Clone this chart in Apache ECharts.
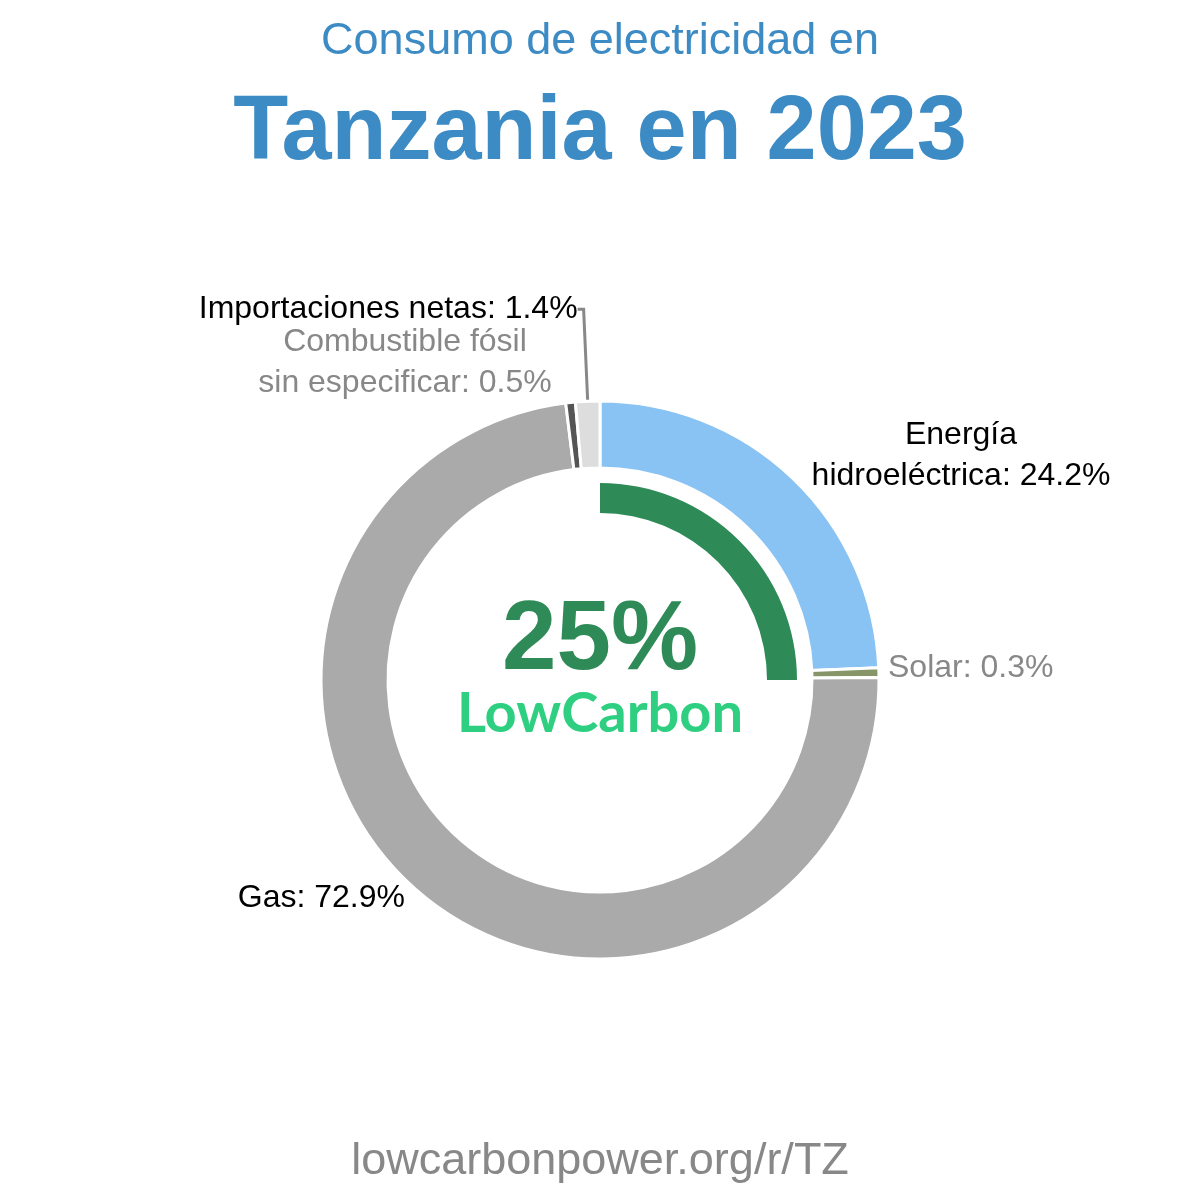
<!DOCTYPE html>
<html>
<head>
<meta charset="utf-8">
<style>
  html, body { margin: 0; padding: 0; background: #fff; }
  #chart { width: 1200px; height: 1200px; }
</style>
<script src="https://cdn.jsdelivr.net/npm/echarts@6/dist/echarts.min.js"></script>
</head>
<body>
<div id="chart"></div>
<script>
// datos
const categories = ['Energía\nhidroeléctrica', 'Solar', 'Gas', 'Combustible fósil\nsin especificar', 'Importaciones netas']
const shares = [24.2, 0.3, 72.9, 0.5, 1.4]
const lowCarbonShare = [25, 75]
const sliceColors = ['#89c3f3', '#869669', '#aaaaaa', '#555555', '#dddddd']
const labelColors = ['#000', '#888', '#000', '#888', '#000']

const chart = echarts.init(document.getElementById('chart'))
const FONT = '"Liberation Sans", Arial, sans-serif'

// posiciones de las etiquetas (solo estilo)
const labelSpots = [
    { x: 961, y: 456, align: 'center' },
    { x: 888, y: 668, align: 'left' },
    { x: 405, y: 898, align: 'right' },
    { x: 405, y: 363, align: 'center' },
    null
]

const option = {
    animation: false,
    graphic: [
        { type: 'text', style: { text: 'Consumo de electricidad en', x: 600, y: 42, align: 'center', verticalAlign: 'middle', font: '45px ' + FONT, fill: '#3d8bc4' } },
        { type: 'text', style: { text: 'Tanzania en 2023', x: 600, y: 134, align: 'center', verticalAlign: 'middle', font: 'bold 90px ' + FONT, fill: '#3d8bc4' } },
        { type: 'text', style: { text: '25%', x: 600, y: 642, align: 'center', verticalAlign: 'middle', font: 'bold 98px ' + FONT, fill: '#2e8b57' } },
        { type: 'text', style: { text: 'LowCarbon', x: 600, y: 714, align: 'center', verticalAlign: 'middle', font: 'bold 56px Lato, sans-serif', fill: '#2ecf80' } },
        { type: 'text', style: { text: 'lowcarbonpower.org/r/TZ', x: 600, y: 1162, align: 'center', verticalAlign: 'middle', font: '45px ' + FONT, fill: '#888888' } }
    ],
    series: [
        {
            type: 'pie',
            center: [600, 680],
            radius: [212, 279],
            startAngle: 90,
            clockwise: true,
            minAngle: 2,
            avoidLabelOverlap: false,
            itemStyle: { borderColor: '#fff', borderWidth: 3 },
            label: {
                show: true,
                fontFamily: FONT,
                fontSize: 32,
                lineHeight: 41,
                formatter: p => p.name + ': ' + p.value + '%',
                distanceToLabelLine: 0
            },
            labelLine: {
                show: true,
                length: 92,
                length2: 6,
                lineStyle: { color: '#888', width: 3 }
            },
            labelLayout: function (params) {
                const spot = labelSpots[params.dataIndex]
                if (!spot) return {}
                return { x: spot.x, y: spot.y, align: spot.align, verticalAlign: 'middle' }
            },
            data: categories.map((name, i) => ({
                name: name,
                value: shares[i],
                itemStyle: { color: sliceColors[i] },
                label: { color: labelColors[i], align: labelSpots[i] ? labelSpots[i].align : undefined },
                labelLine: { show: i === 4 }
            }))
        },
        {
            type: 'pie',
            center: [600, 680],
            radius: [167, 197],
            startAngle: 90,
            clockwise: true,
            silent: true,
            label: { show: false },
            labelLine: { show: false },
            data: [
                { value: lowCarbonShare[0], itemStyle: { color: '#2e8b57' } },
                { value: lowCarbonShare[1], itemStyle: { color: 'rgba(0,0,0,0)' } }
            ]
        }
    ]
}

chart.setOption(option)
window.addEventListener('resize', () => {
    chart.resize()
})
</script>
</body>
</html>
